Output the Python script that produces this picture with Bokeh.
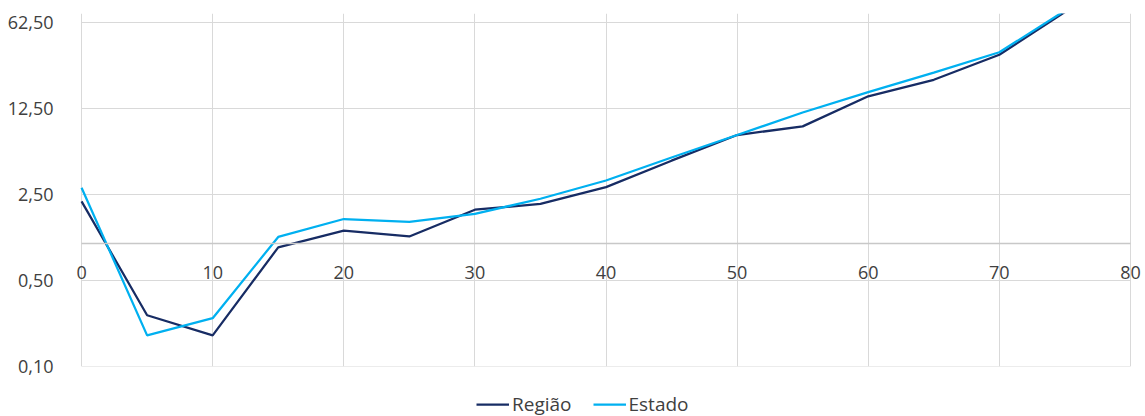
from bokeh.plotting import figure
from bokeh.layouts import column
from bokeh.models import (FixedTicker, CustomJSTickFormatter, Legend, LegendItem,
                          Range1d)
from bokeh.embed import file_html
from bokeh.resources import INLINE

# ---- data ----
idade = [0, 5, 10, 15, 20, 25, 30, 35, 40, 45, 50, 55, 60, 65, 70, 75]
regiao = [2.20, 0.261, 0.179, 0.93, 1.27, 1.14, 1.88, 2.10, 2.87, 4.71, 7.61,
          8.95, 15.7, 21.4, 34.2, 76.0]
estado = [2.84, 0.179, 0.247, 1.13, 1.58, 1.50, 1.74, 2.31, 3.25, 5.0, 7.61,
          11.6, 17.0, 24.5, 35.8, 78.0]
x_ticks = [0, 10, 20, 30, 40, 50, 60, 70, 80]
y_ticks = [0.1, 0.5, 2.5, 12.5, 62.5]
series_names = ["Região", "Estado"]
colors = ["#172c64", "#00b0f0"]

FONT = "Open Sans"
LABEL_COLOR = "#404040"
GRID = "#d9d9d9"

p = figure(width=1145, height=380, y_axis_type="log",
           x_range=Range1d(-0.92, 80.92), y_range=Range1d(0.1, 74),
           output_backend="svg", toolbar_location=None,
           min_border_left=69, min_border_right=3, min_border_top=13,
           min_border_bottom=14)
p.outline_line_color = None
p.background_fill_color = "white"

# vertical grid lines
p.xgrid.ticker = FixedTicker(ticks=x_ticks)
p.xgrid.grid_line_color = GRID
p.xgrid.grid_line_width = 1
# horizontal grid lines limited to the x extent of the axis
p.ygrid.visible = False
n = len(y_ticks)
p.segment(x0=[x_ticks[0]] * n, y0=y_ticks, x1=[x_ticks[-1]] * n, y1=y_ticks,
          line_color=GRID, line_width=1)

# x axis crossing at y = 1
xa = p.xaxis[0]
xa.fixed_location = 1
xa.bounds = (x_ticks[0], x_ticks[-1])
xa.ticker = FixedTicker(ticks=x_ticks)
xa.axis_line_color = "#c8c8c8"
xa.axis_line_width = 1.5
xa.major_tick_line_color = None
xa.minor_tick_line_color = None
xa.major_label_standoff = 17
xa.major_label_text_font = FONT
xa.major_label_text_font_size = "18px"
xa.major_label_text_color = LABEL_COLOR

ya = p.yaxis[0]
ya.ticker = FixedTicker(ticks=y_ticks)
ya.formatter = CustomJSTickFormatter(code="return tick.toFixed(2).replace('.', ',');")
ya.axis_line_color = None
ya.major_tick_line_color = None
ya.minor_tick_line_color = None
ya.major_label_standoff = 10
ya.major_label_text_font = FONT
ya.major_label_text_font_size = "18px"
ya.major_label_text_color = LABEL_COLOR

p.line(idade, regiao, line_color=colors[0], line_width=2.25)
p.line(idade, estado, line_color=colors[1], line_width=2.25)

# legend strip below the chart (proxy renderers lie outside its view)
pl = figure(width=1145, height=36, x_range=Range1d(-20, -19), y_range=Range1d(0, 1),
            output_backend="svg", toolbar_location=None, min_border=0)
pl.axis.visible = False
pl.grid.visible = False
pl.outline_line_color = None
l1 = pl.line(idade, regiao, line_color=colors[0], line_width=2.25)
l2 = pl.line(idade, estado, line_color=colors[1], line_width=2.25)
legend = Legend(items=[LegendItem(label=series_names[0], renderers=[l1]),
                       LegendItem(label=series_names[1], renderers=[l2])],
                orientation="horizontal", location=(407, -1),
                glyph_width=33, glyph_height=20, label_standoff=3, spacing=21,
                padding=0, margin=0, border_line_color=None,
                background_fill_alpha=0,
                label_text_font=FONT, label_text_font_size="19px",
                label_text_color=LABEL_COLOR)
pl.add_layout(legend, "center")

open("out.html", "w").write(file_html(column(p, pl, spacing=0), INLINE))
